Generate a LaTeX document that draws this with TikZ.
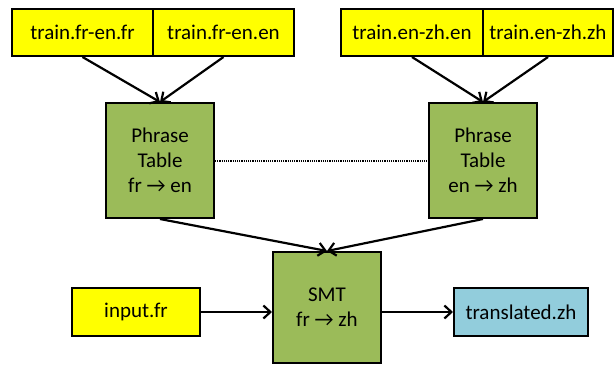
\documentclass[tikz,border=0pt]{standalone}
\usepackage{fontspec}
\setmainfont{Carlito}
\usetikzlibrary{arrows.meta}
\definecolor{ylw}{HTML}{FFFF00}
\definecolor{grn}{HTML}{9BBB59}
\definecolor{blu}{HTML}{92CDDC}
\tikzset{
  box/.style={draw=black, line width=2pt, inner sep=0pt, align=center,
    font=\fontsize{21}{25}\selectfont},
  ybox/.style={box, fill=ylw, minimum height=47pt},
  gbox/.style={box, fill=grn, minimum width=108pt},
  bbox/.style={box, fill=blu, minimum height=48pt},
  arr/.style={line width=2.2pt, -{Straight Barb[length=7pt,width=13pt,line width=2.2pt]}},
}
\begin{document}
\begin{tikzpicture}[x=1pt,y=-1pt]
\useasboundingbox (0,0) rectangle (615,365);
\node[ybox, minimum width=141pt] (a1) at (82.5,32.5) {train.fr-en.fr};
\node[ybox, minimum width=141pt] (a2) at (223.5,32.5) {train.fr-en.en};
\node[ybox, minimum width=142pt] (b1) at (412,32.5) {train.en-zh.en};
\node[ybox, minimum width=130pt] (b2) at (548,32.5) {train.en-zh.zh};
\node[gbox, minimum height=115pt] (p1) at (160,160.5) {Phrase\\Table\\fr → en};
\node[gbox, minimum height=115pt] (p2) at (483,160.5) {Phrase\\Table\\en → zh};
\node[gbox, minimum height=111pt] (smt) at (327,307.5) {SMT\\fr → zh};
\node[ybox, minimum width=128pt, minimum height=48pt] (in) at (136,312) {input.fr};
\node[bbox, minimum width=134pt] (tr) at (521,312) {translated.zh};
\draw[arr] (a1.south) -- (p1.north);
\draw[arr] (a2.south) -- (p1.north);
\draw[arr] (b1.south) -- (p2.north);
\draw[arr] (b2.south) -- (p2.north);
\draw[arr] (p1.south) -- (smt.north);
\draw[arr] (p2.south) -- (smt.north);
\draw[arr] (in.east) -- (in.east -| smt.west);
\draw[arr] (tr.west -| smt.east) -- (tr.west);
\draw[line width=2pt, dash pattern=on 1.2pt off 1pt] (p1.east) -- (p2.west);
\end{tikzpicture}
\end{document}
